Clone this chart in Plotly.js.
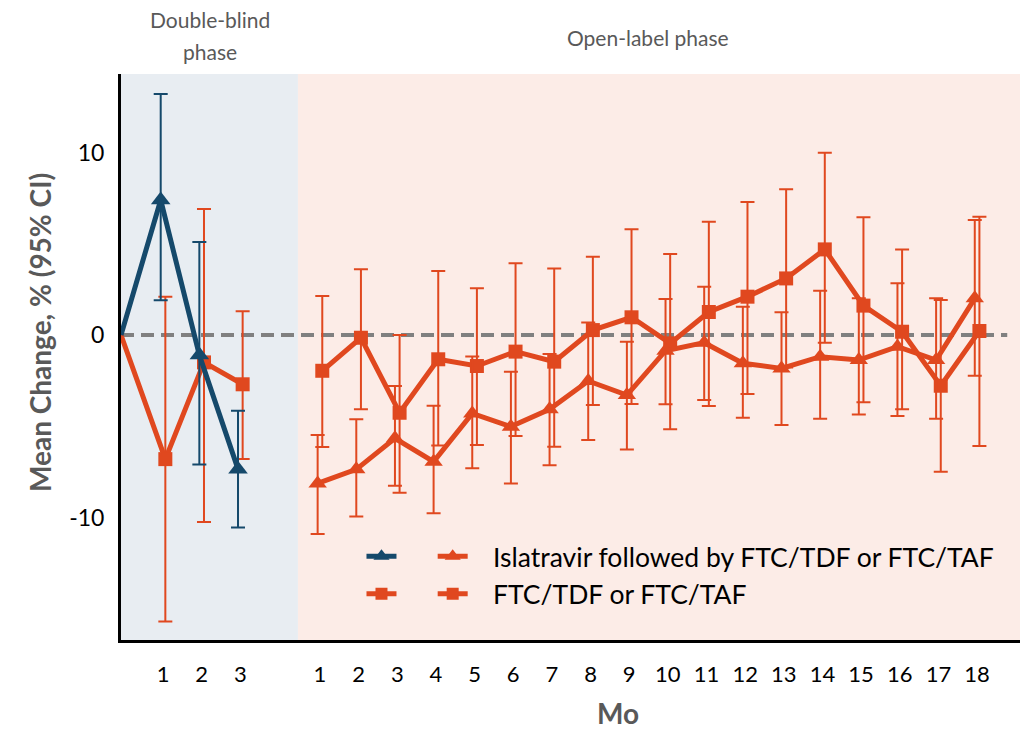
<!DOCTYPE html>
<html><head><meta charset="utf-8">
<script src="https://cdn.plot.ly/plotly-3.0.1.min.js"></script>
<style>html,body{margin:0;padding:0;background:#fff}#chart{width:1025px;height:730px}</style>
</head><body><div id="chart"></div>
<script>
// ---- data (mean change %, 95% CI) ----
const dbMonths = [1, 2, 3];
const olMonths = [1, 2, 3, 4, 5, 6, 7, 8, 9, 10, 11, 12, 13, 14, 15, 16, 17, 18];

const islDbMean  = [7.4, -1.1, -7.35];
const islDbUpper = [13.2, 5.1, -4.15];
const islDbLower = [1.9, -7.1, -10.55];

const ftcDbMean  = [-6.8, -1.5, -2.7];
const ftcDbUpper = [2.1, 6.9, 1.3];
const ftcDbLower = [-15.7, -10.25, -6.8];

const islOlMean  = [-8.13, -7.36, -5.66, -6.94, -4.3, -5.02, -4.07, -2.52, -3.29, -0.86, -0.42, -1.55, -1.83, -1.19, -1.37, -0.64, -1.37, 2.01];
const islOlUpper = [-5.48, -4.62, -2.79, -3.87, -1.18, -2.01, -1.04, 0.68, -0.37, 1.97, 2.65, 1.55, 1.24, 2.43, 2.01, 2.83, 2.01, 6.3];
const islOlLower = [-10.9, -9.95, -8.26, -9.77, -7.3, -8.13, -7.14, -5.75, -6.27, -3.8, -3.56, -4.53, -4.93, -4.59, -4.35, -4.44, -4.59, -2.23];

const ftcOlMean  = [-1.96, -0.15, -4.26, -1.33, -1.7, -0.91, -1.46, 0.27, 0.97, -0.46, 1.26, 2.1, 3.1, 4.69, 1.61, 0.18, -2.78, 0.22];
const ftcOlUpper = [2.14, 3.6, 0.0, 3.5, 2.56, 3.93, 3.65, 4.29, 5.79, 4.44, 6.21, 7.29, 7.98, 9.99, 6.45, 4.69, 1.92, 6.48];
const ftcOlLower = [-6.14, -4.07, -8.64, -6.06, -6.03, -5.53, -6.12, -3.84, -3.78, -5.17, -3.89, -3.23, -1.78, -0.42, -3.69, -4.07, -7.49, -6.08];

const yTickVals = [10, 0, -10];
const yTickText = ['10', '0', '-10'];

const legendIsl = 'Islatravir followed by FTC/TDF or FTC/TAF';
const legendFtc = 'FTC/TDF or FTC/TAF';

// ---- layout helpers ----
const BLUE = '#15496b', ORANGE = '#e0481f';
const X_MIN = -0.087, X_MAX = 23.17, SPLIT = 4.49, OL_SHIFT = 4.06, DODGE = 0.06;
const dbPos = dbMonths.map(m => m);
const olPos = olMonths.map(m => m + OL_SHIFT);
const PAD = '\u00a0\u00a0\u00a0';

function errs(mean, up, lo, pad) {
  const a = mean.map((m, i) => up[i] - m), b = mean.map((m, i) => m - lo[i]);
  return pad ? {array: [NaN, ...a], arrayminus: [NaN, ...b]} : {array: a, arrayminus: b};
}
function trace(x, y, e, color, symbol, size) {
  return {
    x, y, type: 'scatter', mode: 'lines+markers', showlegend: false, cliponaxis: false,
    line: {color, width: 5},
    marker: {color, symbol, size, opacity: 1, line: {width: 0}},
    error_y: Object.assign({type: 'data', symmetric: false, color, thickness: 2, width: 7}, e)
  };
}
const eIslDb = errs(islDbMean, islDbUpper, islDbLower, true);
const eFtcDb = errs(ftcDbMean, ftcDbUpper, ftcDbLower, true);

const data = [
  trace([X_MIN, ...dbPos.map(p => p + DODGE)], [0, ...ftcDbMean], eFtcDb, ORANGE, 'square', [0, 14, 14, 14]),
  trace([X_MIN, ...dbPos.map(p => p - DODGE)], [0, ...islDbMean], eIslDb, BLUE, 'triangle-up', [0, 17, 17, 17]),
  trace(olPos.map(p => p + DODGE), ftcOlMean, errs(ftcOlMean, ftcOlUpper, ftcOlLower), ORANGE, 'square', 14),
  trace(olPos.map(p => p - DODGE), islOlMean, errs(islOlMean, islOlUpper, islOlLower), ORANGE, 'triangle-up', 16)
];
// legend keys
function key(name, color, symbol, size, legend, group) {
  return {x: [null], y: [null], type: 'scatter', mode: 'lines+markers', name, legend, legendgroup: group,
    line: {color, width: 5}, marker: {color, symbol, size}, showlegend: true};
}
data.push(key('\u00a0', BLUE, 'triangle-up', 14, 'legend', 'a1'));
data.push(key('\u00a0', ORANGE, 'square', 12, 'legend', 'a2'));
data.push(key(PAD + legendIsl, ORANGE, 'triangle-up', 14, 'legend2', 'b1'));
data.push(key(PAD + legendFtc, ORANGE, 'square', 12, 'legend2', 'b2'));

const legendBase = {xanchor: 'left', yanchor: 'top', y: 0.19, bgcolor: 'rgba(0,0,0,0)', borderwidth: 0,
  font: {family: 'Lato, sans-serif', size: 26.5, color: '#000'}, traceorder: 'grouped', tracegroupgap: 0, itemwidth: 30};

const layout = {
  width: 1025, height: 730,
  margin: {l: 121, r: 5, t: 74, b: 90},
  paper_bgcolor: '#fff', plot_bgcolor: 'rgba(0,0,0,0)',
  font: {family: 'Lato, sans-serif', color: '#000'},
  showlegend: true,
  legend: Object.assign({}, legendBase, {x: 0.2675}),
  legend2: Object.assign({}, legendBase, {x: 0.3467}),
  xaxis: {
    range: [X_MIN, X_MAX], showgrid: false, zeroline: false,
    showline: true, linecolor: '#000', linewidth: 3, ticks: '',
    tickvals: [...dbPos, ...olPos], ticktext: [...dbMonths, ...olMonths].map(String),
    tickfont: {family: 'Lato, sans-serif', size: 22, color: '#000'}, ticklabelstandoff: 13
  },
  yaxis: {
    range: [-16.71, 14.3], showgrid: false, zeroline: false,
    showline: true, linecolor: '#000', linewidth: 3, ticks: '',
    tickvals: yTickVals, ticktext: yTickText,
    tickfont: {family: 'Lato, sans-serif', size: 23, color: '#000'}, ticklabelstandoff: 9
  },
  shapes: [
    {type: 'rect', xref: 'x', yref: 'paper', x0: X_MIN, x1: SPLIT, y0: 0, y1: 1, fillcolor: '#e8edf2', line: {width: 0}, layer: 'below'},
    {type: 'rect', xref: 'x', yref: 'paper', x0: SPLIT, x1: X_MAX, y0: 0, y1: 1, fillcolor: '#fcece7', line: {width: 0}, layer: 'below'},
    {type: 'line', xref: 'x', yref: 'y', x0: X_MIN, x1: 22.84, y0: 0, y1: 0, line: {color: '#808080', width: 4, dash: '13px,7px'}, layer: 'below'}
  ],
  annotations: [
    {text: 'Double-blind', xref: 'x', yref: 'paper', x: 2.22, y: (640 - 20) / 566, showarrow: false, xanchor: 'center', yanchor: 'middle', font: {family: 'Lato, sans-serif', size: 21, color: '#595959'}},
    {text: 'phase', xref: 'x', yref: 'paper', x: 2.22, y: (640 - 52) / 566, showarrow: false, xanchor: 'center', yanchor: 'middle', font: {family: 'Lato, sans-serif', size: 21, color: '#595959'}},
    {text: 'Open-label phase', xref: 'x', yref: 'paper', x: 13.54, y: (640 - 38) / 566, showarrow: false, xanchor: 'center', yanchor: 'middle', font: {family: 'Lato, sans-serif', size: 21, color: '#595959'}},
    {text: '<b>Mean Change, % (95% CI)</b>', xref: 'paper', yref: 'paper', x: (40 - 121) / 899, y: (640 - 333) / 566, textangle: -90, showarrow: false, xanchor: 'center', yanchor: 'middle', font: {family: 'Lato, sans-serif', size: 28, color: '#595959'}},
    {text: '<b>Mo</b>', xref: 'paper', yref: 'paper', x: (618 - 121) / 899, y: (640 - 713) / 566, height: 26, valign: 'middle', showarrow: false, xanchor: 'center', yanchor: 'middle', font: {family: 'Lato, sans-serif', size: 28, color: '#595959'}}
  ]
};
Plotly.newPlot('chart', data, layout, {displayModeBar: false, staticPlot: true});
</script>
</body></html>
